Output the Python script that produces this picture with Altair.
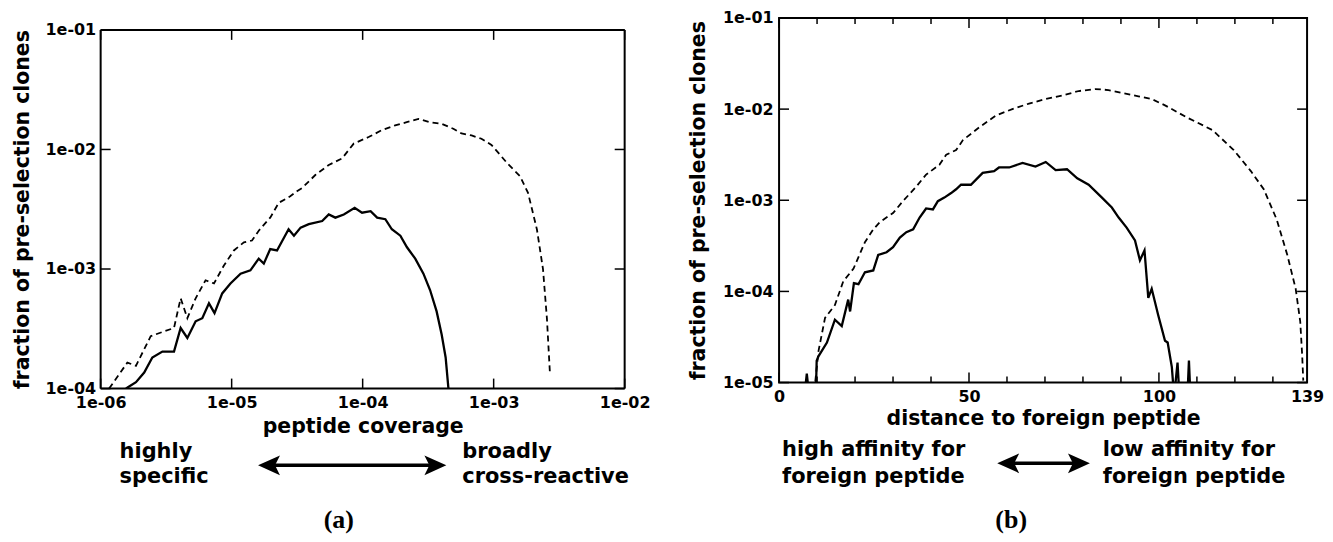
import altair as alt
import pandas as pd

FONT = "DejaVu Sans"

# ---------------- panel (a): peptide coverage (log-log) ----------------
a_dash_x = [1.16e-6, 1.60e-6, 1.86e-6, 2.41e-6, 3.05e-6, 3.63e-6, 4.08e-6, 4.59e-6, 5.31e-6,
            6.32e-6, 7.33e-6, 8.73e-6, 1.04e-5, 1.24e-5, 1.43e-5, 1.61e-5, 1.97e-5, 2.29e-5,
            2.80e-5, 3.15e-5, 3.45e-5, 4.37e-5, 5.51e-5, 6.97e-5, 8.55e-5, 1.11e-4, 1.40e-4,
            1.77e-4, 2.17e-4, 2.67e-4, 3.27e-4, 4.01e-4, 4.92e-4, 5.69e-4, 6.78e-4, 8.07e-4,
            9.62e-4, 1.15e-3, 1.27e-3, 1.59e-3, 1.83e-3, 2.14e-3, 2.38e-3, 2.55e-3, 2.69e-3]
a_dash_y = [1.00e-4, 1.65e-4, 1.55e-4, 2.74e-4, 3.01e-4, 3.21e-4, 5.69e-4, 3.88e-4, 5.69e-4,
            8.05e-4, 7.57e-4, 1.07e-3, 1.43e-3, 1.67e-3, 1.73e-3, 2.09e-3, 2.69e-3, 3.58e-3,
            4.06e-3, 4.47e-3, 4.76e-3, 6.14e-3, 7.41e-3, 8.43e-3, 1.12e-2, 1.27e-2, 1.45e-2,
            1.59e-2, 1.69e-2, 1.80e-2, 1.69e-2, 1.64e-2, 1.49e-2, 1.36e-2, 1.31e-2, 1.23e-2,
            1.09e-2, 8.71e-3, 7.66e-3, 5.98e-3, 4.33e-3, 2.14e-3, 1.00e-3, 3.86e-4, 1.33e-4]

a_solid_x = [1.56e-6, 1.86e-6, 2.15e-6, 2.48e-6, 2.96e-6, 3.63e-6, 4.08e-6, 4.59e-6, 5.31e-6,
             5.97e-6, 6.71e-6, 7.40e-6, 8.47e-6, 9.79e-6, 1.17e-5, 1.39e-5, 1.61e-5, 1.76e-5,
             1.97e-5, 2.22e-5, 2.72e-5, 2.99e-5, 3.36e-5, 3.88e-5, 4.91e-5, 5.51e-5, 6.19e-5,
             7.18e-5, 8.69e-5, 9.89e-5, 1.15e-4, 1.29e-4, 1.49e-4, 1.67e-4, 1.94e-4, 2.18e-4,
             2.52e-4, 2.91e-4, 3.27e-4, 3.67e-4, 4.01e-4, 4.30e-4, 4.51e-4, 4.60e-4]
a_solid_y = [1.00e-4, 1.13e-4, 1.36e-4, 1.82e-4, 2.04e-4, 2.04e-4, 3.21e-4, 2.65e-4, 3.65e-4,
             3.88e-4, 5.16e-4, 4.28e-4, 6.25e-4, 7.57e-4, 9.14e-4, 9.75e-4, 1.22e-3, 1.11e-3,
             1.47e-3, 1.43e-3, 2.15e-3, 1.90e-3, 2.22e-3, 2.37e-3, 2.52e-3, 2.86e-3, 2.69e-3,
             2.86e-3, 3.25e-3, 2.96e-3, 3.05e-3, 2.69e-3, 2.61e-3, 2.15e-3, 1.90e-3, 1.52e-3,
             1.22e-3, 9.14e-4, 6.67e-4, 4.42e-4, 2.83e-4, 1.82e-4, 1.02e-4, 8.0e-5]

a_x_ticks = [1e-6, 1e-5, 1e-4, 1e-3, 1e-2]
a_y_ticks = [1e-4, 1e-3, 1e-2, 1e-1]

# ---------------- panel (b): distance to foreign peptide ----------------
b_dash_x = [9.2, 9.5, 10.4, 12.1, 14.7, 16.9, 19.6, 22.6, 24.8, 26.5, 30.0, 32.6, 36.1, 38.7,
            42.2, 44.0, 46.6, 48.4, 52.7, 57.1, 61.4, 65.8, 70.2, 74.5, 78.9, 83.2, 86.7,
            90.2, 94.6, 98.1, 101.6, 107.3, 114.1, 119.7, 124.2, 127.6, 131.0, 133.8, 136.0,
            137.2, 137.7, 138.0]
b_dash_y = [8.0e-6, 1.0e-5, 2.24e-5, 5.13e-5, 7.08e-5, 1.29e-4, 1.78e-4, 3.47e-4, 4.79e-4,
            5.75e-4, 7.24e-4, 9.77e-4, 1.41e-3, 1.91e-3, 2.45e-3, 3.16e-3, 3.55e-3, 4.57e-3,
            6.31e-3, 8.51e-3, 1.00e-2, 1.15e-2, 1.29e-2, 1.41e-2, 1.58e-2, 1.66e-2, 1.62e-2,
            1.51e-2, 1.38e-2, 1.29e-2, 1.10e-2, 8.13e-3, 5.89e-3, 3.55e-3, 2.09e-3, 1.32e-3,
            6.17e-4, 2.51e-4, 1.07e-4, 4.68e-5, 2.04e-5, 1.05e-5]

b_solid_x = [6.8, 7.3, 7.8, 9.7, 9.9, 10.4, 12.6, 14.7, 16.5, 18.2, 18.7, 19.7, 20.9, 22.6,
             24.8, 26.1, 28.3, 30.0, 31.8, 33.5, 35.3, 37.0, 38.7, 40.5, 41.8, 43.5, 45.3,
             46.6, 47.9, 50.5, 53.6, 56.6, 57.9, 60.6, 64.1, 67.5, 70.2, 72.8, 75.8, 78.5,
             81.5, 85.0, 87.6, 89.4, 91.5, 93.7, 95.0, 96.2, 97.2, 98.1, 99.8, 101.6, 102.3,
             103.4, 104.0, 104.9, 105.4, 107.5, 107.9, 108.3]
b_solid_y = [8.0e-6, 1.25e-5, 8.0e-6, 8.0e-6, 1.74e-5, 1.95e-5, 2.75e-5, 4.9e-5, 4.17e-5,
             8.13e-5, 6.03e-5, 1.23e-4, 1.20e-4, 1.62e-4, 1.70e-4, 2.51e-4, 2.69e-4, 3.05e-4,
             3.89e-4, 4.47e-4, 4.79e-4, 6.46e-4, 8.13e-4, 7.94e-4, 9.77e-4, 1.07e-3, 1.20e-3,
             1.32e-3, 1.48e-3, 1.48e-3, 2.00e-3, 2.09e-3, 2.29e-3, 2.29e-3, 2.57e-3, 2.34e-3,
             2.63e-3, 2.14e-3, 2.19e-3, 1.74e-3, 1.48e-3, 1.07e-3, 8.32e-4, 6.46e-4, 5.01e-4,
             3.63e-4, 2.19e-4, 2.82e-4, 8.51e-5, 1.07e-4, 5.5e-5, 2.88e-5, 2.75e-5, 1.48e-5,
             7.0e-6, 1.66e-5, 7.0e-6, 7.0e-6, 1.74e-5, 7.0e-6]

b_x_labels = [0, 50, 100, 139]
b_x_major = [0, 50, 100]
b_x_minor = [10, 20, 30, 40, 60, 70, 80, 90, 110, 120, 130]
b_y_ticks = [1e-5, 1e-4, 1e-3, 1e-2, 1e-1]

a_notes = ["highly", "specific", "broadly", "cross-reactive", "(a)"]
b_notes = ["high affinity for", "foreign peptide", "low affinity for", "foreign peptide", "(b)"]

# ---------------- helpers ----------------
EXP = "'1e-0' + round(-log(datum.value) / LN10)"
common = dict(domain=False, ticks=False, grid=False, labelFlush=False, labelOverlap=False,
              labelFont=FONT, labelFontSize=16, labelFontWeight="bold", labelColor="black",
              titleFont=FONT, titleFontSize=20.5, titleFontWeight="bold", titleColor="black")


def one():
    return pd.DataFrame({"k": [0]})


def text(s, x, y, align="left", size=21, font=FONT):
    return alt.Chart(pd.DataFrame({"t": [s]})).mark_text(
        align=align, baseline="middle", fontSize=size, font=font, fontWeight="bold", color="black"
    ).encode(text="t:N", x=alt.value(x), y=alt.value(y))


def arrow(x1, x2, y, head=22):
    r = head / 2
    shaft = alt.Chart(one()).mark_rule(color="black", strokeWidth=3.5).encode(
        x=alt.value(x1 + r), x2=alt.value(x2 - r), y=alt.value(y))
    left = alt.Chart(one()).mark_point(
        shape="M-1,0L1,-0.9L0.55,0L1,0.9Z", size=head * head, filled=True,
        color="black", opacity=1, strokeWidth=0).encode(x=alt.value(x1 + r), y=alt.value(y))
    right = alt.Chart(one()).mark_point(
        shape="M1,0L-1,-0.9L-0.55,0L-1,0.9Z", size=head * head, filled=True,
        color="black", opacity=1, strokeWidth=0).encode(x=alt.value(x2 - r), y=alt.value(y))
    return [shaft, left, right]


def xticks(vals, scale, axis, top, bottom, length):
    df = pd.DataFrame({"x": vals})
    bot = alt.Chart(df).mark_rule(color="black", strokeWidth=1.5).encode(
        x=alt.X("x:Q", scale=scale, axis=axis), y=alt.value(bottom - length), y2=alt.value(bottom))
    tp = alt.Chart(df).mark_rule(color="black", strokeWidth=1.5).encode(
        x=alt.X("x:Q", scale=scale, axis=axis), y=alt.value(top), y2=alt.value(top + length))
    return [bot, tp]


def yticks(vals, scale, axis, w, length):
    df = pd.DataFrame({"y": vals})
    lef = alt.Chart(df).mark_rule(color="black", strokeWidth=1.5).encode(
        y=alt.Y("y:Q", scale=scale, axis=axis), x=alt.value(0), x2=alt.value(length))
    rig = alt.Chart(df).mark_rule(color="black", strokeWidth=1.5).encode(
        y=alt.Y("y:Q", scale=scale, axis=axis), x=alt.value(w - length), x2=alt.value(w))
    return [lef, rig]


# ---------------- panel (a) ----------------
AW, AH = 526, 360          # frame size of panel (a)
A_TOP = 12                 # panel (a) frame sits this far below panel (b)'s top
AVH = AH + A_TOP           # view height (frame + offset)
xa = alt.Scale(type="log", domain=[1e-6, 1e-2], nice=False)
ya = alt.Scale(type="log", domain=[1e-4, 10 ** (-1 + A_TOP / (AH / 3))], nice=False)
a_xaxis = alt.Axis(values=a_x_ticks, labelExpr=EXP, title="peptide coverage",
                   labelPadding=6, titlePadding=6, **common)
a_yaxis = alt.Axis(values=a_y_ticks, labelExpr=EXP, title="fraction of pre-selection clones",
                   labelPadding=5, titlePadding=13, titleY=A_TOP + AH / 2, **common)

a_dash = alt.Chart(pd.DataFrame({"x": a_dash_x, "y": a_dash_y})).mark_line(
    color="black", strokeWidth=1.8, strokeDash=[6, 4], clip=True
).encode(x=alt.X("x:Q", scale=xa, axis=a_xaxis), y=alt.Y("y:Q", scale=ya, axis=a_yaxis),
         order=alt.Order("x:Q"))
a_solid = alt.Chart(pd.DataFrame({"x": a_solid_x, "y": a_solid_y})).mark_line(
    color="black", strokeWidth=2.3, clip=True
).encode(x=alt.X("x:Q", scale=xa, axis=a_xaxis), y=alt.Y("y:Q", scale=ya, axis=a_yaxis),
         order=alt.Order("x:Q"))

# frame of panel (a), drawn at the ends of its axes
a_frame_h = alt.Chart(pd.DataFrame({"y": [a_y_ticks[0], a_y_ticks[-1]]})).mark_rule(
    color="black", strokeWidth=2).encode(
    y=alt.Y("y:Q", scale=ya, axis=a_yaxis), x=alt.value(0), x2=alt.value(AW))
a_frame_v = alt.Chart(pd.DataFrame({"x": [a_x_ticks[0], a_x_ticks[-1]],
                                    "y": [a_y_ticks[-1]] * 2, "y2": [a_y_ticks[0]] * 2})).mark_rule(
    color="black", strokeWidth=2).encode(
    x=alt.X("x:Q", scale=xa, axis=a_xaxis), y=alt.Y("y:Q", scale=ya, axis=a_yaxis), y2="y2:Q")

a_layers = [a_dash, a_solid, a_frame_h, a_frame_v]
a_layers += xticks(a_x_ticks, xa, a_xaxis, A_TOP, AVH, 10)
a_layers += yticks(a_y_ticks, ya, a_yaxis, AW, 10)
a_layers += [text(a_notes[0], 19, 436), text(a_notes[1], 19, 461),
             text(a_notes[2], 363, 436), text(a_notes[3], 363, 461),
             text(a_notes[4], 239, 504, align="center", size=26, font="Liberation Serif")]
a_layers += arrow(158, 347, 449)
panel_a = alt.layer(*a_layers).properties(width=AW, height=AVH,
                                          view=alt.ViewBackground(stroke=None))

# ---------------- panel (b) ----------------
BW, BH = 530, 366
xb = alt.Scale(domain=[0, 139], nice=False, zero=False)
yb = alt.Scale(type="log", domain=[1e-5, 1e-1], nice=False)
b_xaxis = alt.Axis(values=b_x_labels, format="d", title="distance to foreign peptide",
                   labelPadding=6, titlePadding=4, **common)
b_yaxis = alt.Axis(values=b_y_ticks, labelExpr=EXP, title="fraction of pre-selection clones",
                   labelPadding=6, titlePadding=14, **common)

b_dash = alt.Chart(pd.DataFrame({"x": b_dash_x, "y": b_dash_y})).mark_line(
    color="black", strokeWidth=1.8, strokeDash=[6, 4], clip=True
).encode(x=alt.X("x:Q", scale=xb, axis=b_xaxis), y=alt.Y("y:Q", scale=yb, axis=b_yaxis),
         order=alt.Order("x:Q"))
b_solid = alt.Chart(pd.DataFrame({"x": b_solid_x, "y": b_solid_y})).mark_line(
    color="black", strokeWidth=2.3, clip=True
).encode(x=alt.X("x:Q", scale=xb, axis=b_xaxis), y=alt.Y("y:Q", scale=yb, axis=b_yaxis),
         order=alt.Order("x:Q"))

b_layers = [b_dash, b_solid]
b_layers += xticks(b_x_major, xb, b_xaxis, 0, BH, 10)
b_layers += xticks(b_x_minor, xb, b_xaxis, 0, BH, 6)
b_layers += yticks(b_y_ticks, yb, b_yaxis, BW, 10)
b_layers += [text(b_notes[0], 3, 434), text(b_notes[1], 3, 461),
             text(b_notes[2], 325, 434), text(b_notes[3], 325, 461),
             text(b_notes[4], 233, 504, align="center", size=26, font="Liberation Serif")]
b_layers += arrow(219, 312, 447)
panel_b = alt.layer(*b_layers).properties(width=BW, height=BH)

chart = alt.hconcat(panel_a, panel_b, spacing=37).properties(
    padding={"left": 4, "top": 0, "right": 0, "bottom": 0}, background="white"
).configure_view(stroke="black", strokeWidth=2)

chart.save("out.html", embed_options={"renderer": "svg", "actions": False})
